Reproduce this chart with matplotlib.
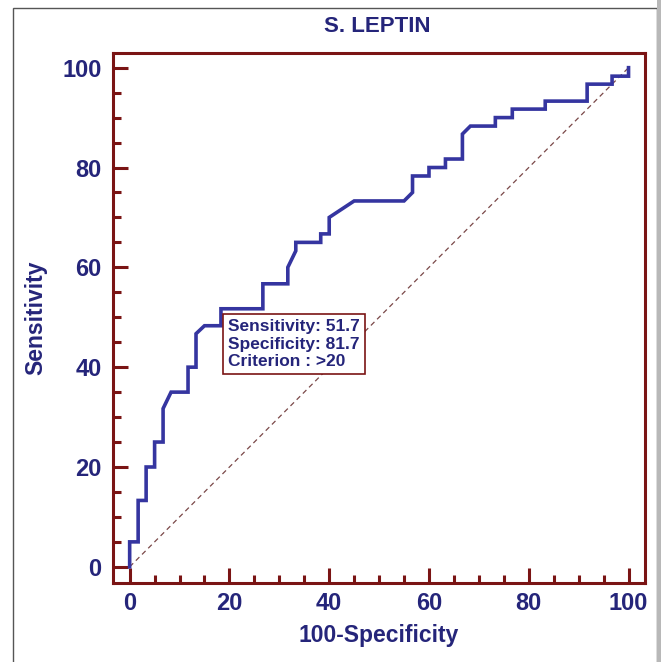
import matplotlib
matplotlib.use('Agg')
import matplotlib.pyplot as plt
from matplotlib.patches import Rectangle
from matplotlib.ticker import MultipleLocator

plt.rcParams['font.family'] = ['Liberation Sans', 'DejaVu Sans']
plt.rcParams['font.weight'] = 'bold'

# ROC curve vertices (100-Specificity, Sensitivity)
fpr = [0, 0, 1.7, 1.7, 3.3, 3.3, 5, 5, 6.7, 6.7, 8.3, 11.7, 11.7, 13.3, 13.3, 15,
       18.3, 18.3, 26.7, 26.7, 31.7, 31.7, 33.3, 33.3, 38.3, 38.3, 40, 40, 45, 55,
       56.7, 56.7, 60, 60, 63.3, 63.3, 66.7, 66.7, 68.3, 73.3, 73.3, 76.7, 76.7,
       83.3, 83.3, 91.7, 91.7, 96.7, 96.7, 100, 100]
tpr = [0, 5, 5, 13.3, 13.3, 20, 20, 25, 25, 31.7, 35, 35, 40, 40, 46.7, 48.3,
       48.3, 51.7, 51.7, 56.7, 56.7, 60, 63.3, 65, 65, 66.7, 66.7, 70, 73.3, 73.3,
       75, 78.3, 78.3, 80, 80, 81.7, 81.7, 86.7, 88.3, 88.3, 90, 90, 91.7,
       91.7, 93.3, 93.3, 96.7, 96.7, 98.3, 98.3, 100]

diag = [0, 100]
box_text = ['Sensitivity: 51.7', 'Specificity: 81.7', 'Criterion : >20']
ticks = [0, 20, 40, 60, 80, 100]

navy = '#25257a'
blue = '#3535a0'
maroon = '#7a1414'

fig = plt.figure(figsize=(6.61, 6.62), dpi=100)
fig.patch.set_facecolor('white')
ax = fig.add_axes([112.7 / 661, 1 - 583.3 / 662, (645 - 112.7) / 661, (583.3 - 52.7) / 662])

ax.plot(diag, diag, color='#7a4848', lw=0.9, ls=(0, (4, 3)))
ax.plot(fpr, tpr, color=blue, lw=2.6, solid_joinstyle='miter')

ax.set_xlim(-3.4, 103.3)
ax.set_ylim(-3.3, 103)
ax.set_xticks(ticks)
ax.set_yticks(ticks)
ax.xaxis.set_minor_locator(MultipleLocator(5))
ax.yaxis.set_minor_locator(MultipleLocator(5))
ax.tick_params(which='both', direction='in', color=maroon, width=2.2,
               top=False, right=False)
ax.tick_params(which='major', length=11, labelsize=17, labelcolor=navy)
ax.tick_params(which='minor', length=5.5)
ax.tick_params(axis='y', which='major', pad=8)
ax.tick_params(axis='x', which='major', pad=6)
for s in ax.spines.values():
    s.set_color(maroon)
    s.set_linewidth(2.2)

ax.set_xlabel('100-Specificity', fontsize=16.5, color=navy, fontweight='bold', labelpad=7)
ax.set_ylabel('Sensitivity', fontsize=16.5, color=navy, fontweight='bold', labelpad=11)
fig.text(377 / 661, 1 - 27 / 662, 'S. LEPTIN', ha='center', va='center',
         fontsize=16, color=navy, fontweight='bold')

ax.text(19.8, 49.6, '\n'.join(box_text), ha='left', va='top', fontsize=12.5,
        color=navy, fontweight='bold', linespacing=1.2,
        bbox=dict(boxstyle='square,pad=0.3', fc='white', ec=maroon, lw=1.2))

# gray frame round the picture
fig.patches.append(Rectangle((12.7 / 661, -0.05), (657 - 12.7) / 661, 1.05 - 7.7 / 662,
                             transform=fig.transFigure, fill=False, ec='#555555', lw=1.0))
fig.patches.append(Rectangle((657 / 661, 0), 4 / 661, 1, transform=fig.transFigure,
                             fc='#b8b8b8', ec='none'))

fig.savefig('out.png', dpi=100)
